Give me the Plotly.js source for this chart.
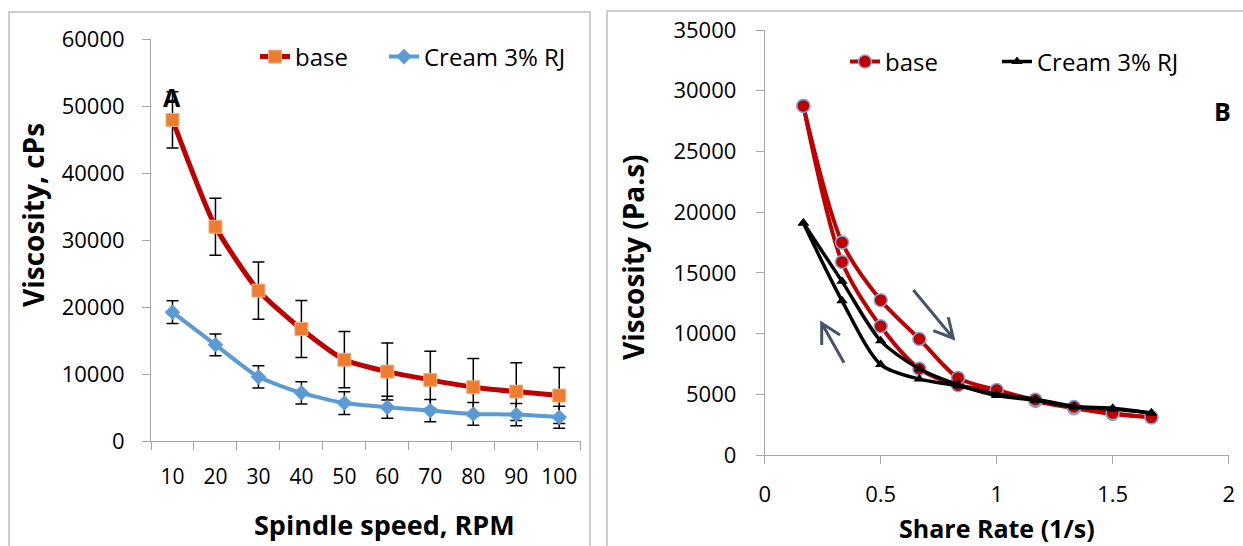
<!DOCTYPE html>
<html>
<head>
<meta charset="utf-8">
<script src="https://cdn.plot.ly/plotly-3.0.1.min.js"></script>
<style>html,body{margin:0;padding:0;background:#fff;}#chart{width:1243px;height:546px;}</style>
</head>
<body>
<div id="chart"></div>
<script>
// ---- Panel A data ----
const rpm = ['10','20','30','40','50','60','70','80','90','100'];
const baseVisc = [47960, 32000, 22470, 16720, 12140, 10370, 9130, 8040, 7380, 6790];
const baseErr = [4200, 4250, 4270, 4250, 4200, 4250, 4290, 4280, 4300, 4180];
const creamVisc = [19240, 14370, 9580, 7190, 5670, 5040, 4540, 4040, 3940, 3550];
const creamErr = [1700, 1620, 1650, 1650, 1700, 1650, 1650, 1700, 1650, 1650];

// ---- Panel B data ----
const shear = [0.1667, 0.3333, 0.5, 0.6667, 0.8333, 1.0, 1.1667, 1.3333, 1.5, 1.6667];
const baseUp = [28750, 17500, 12750, 9550, 6350, 5350, 4550, 3950, 3450, 3100];
const baseDown = [28750, 15900, 10600, 7100, 5750, 5270, 4450, 3850, 3380, 3100];
const creamUp = [19100, 14300, 9400, 7100, 5800, 5000, 4600, 4000, 3850, 3450];
const creamDown = [19100, 12700, 7450, 6250, 5700, 4900, 4500, 3950, 3780, 3450];

const seriesNames = ['base', 'Cream 3% RJ'];
const yTicksA = [0, 10000, 20000, 30000, 40000, 50000, 60000];
const yTicksB = [0, 5000, 10000, 15000, 20000, 25000, 30000, 35000];
const xTicksB = [0, 0.5, 1, 1.5, 2];

const W = 1243, H = 546;
const px = v => v / W;
const py = v => 1 - v / H;
const FONT = 'Open Sans, Liberation Sans, sans-serif';
const AXC = '#A6A6A6';

const traces = [
  {x: rpm, y: baseVisc, name: seriesNames[0], type: 'scatter', mode: 'lines+markers',
   xaxis: 'x', yaxis: 'y', legend: 'legend',
   line: {color: '#C00000', width: 5, shape: 'spline', smoothing: 0.6},
   marker: {symbol: 'square', size: 13, color: '#ED7D31', line: {color: '#F4B183', width: 1}},
   error_y: {type: 'data', array: baseErr, visible: true, color: '#000', thickness: 1.5, width: 6}},
  {x: rpm, y: creamVisc, name: seriesNames[1], type: 'scatter', mode: 'lines+markers',
   xaxis: 'x', yaxis: 'y', legend: 'legend2',
   line: {color: '#5B9BD5', width: 4, shape: 'spline', smoothing: 0.6},
   marker: {symbol: 'diamond', size: 12, color: '#5B9BD5'},
   error_y: {type: 'data', array: creamErr, visible: true, color: '#000', thickness: 1.5, width: 6}},
  {x: shear, y: baseDown, name: seriesNames[0], type: 'scatter', mode: 'lines+markers',
   xaxis: 'x2', yaxis: 'y2', showlegend: false,
   line: {color: '#C00000', width: 4, shape: 'spline', smoothing: 0.8},
   marker: {symbol: 'circle', size: 13, color: '#C00000', line: {color: '#7FA8D8', width: 1.5}}},
  {x: shear, y: baseUp, name: seriesNames[0], type: 'scatter', mode: 'lines+markers',
   xaxis: 'x2', yaxis: 'y2', legend: 'legend3',
   line: {color: '#C00000', width: 4, shape: 'spline', smoothing: 0.8},
   marker: {symbol: 'circle', size: 13, color: '#C00000', line: {color: '#7FA8D8', width: 1.5}}},
  {x: shear, y: creamDown, name: seriesNames[1], type: 'scatter', mode: 'lines+markers',
   xaxis: 'x2', yaxis: 'y2', showlegend: false,
   line: {color: '#000', width: 3.5, shape: 'spline', smoothing: 0.8},
   marker: {symbol: 'triangle-up', size: 10, color: '#000'}},
  {x: shear, y: creamUp, name: seriesNames[1], type: 'scatter', mode: 'lines+markers',
   xaxis: 'x2', yaxis: 'y2', legend: 'legend4',
   line: {color: '#000', width: 3.5, shape: 'spline', smoothing: 0.8},
   marker: {symbol: 'triangle-up', size: 10, color: '#000'}}
];

const axisBase = {
  showgrid: false, zeroline: false, showline: true, linecolor: AXC, linewidth: 1,
  ticks: 'outside', ticklen: 8, tickcolor: AXC, tickwidth: 1,
  tickfont: {family: FONT, size: 22, color: '#000'}, fixedrange: true
};

const legendBase = {
  orientation: 'h', xanchor: 'left', yanchor: 'middle', bgcolor: 'rgba(0,0,0,0)',
  borderwidth: 0, font: {family: FONT, size: 24, color: '#000'}
};

const layout = {
  width: W, height: H, autosize: false,
  margin: {l: 0, r: 0, t: 0, b: 0},
  paper_bgcolor: '#fff', plot_bgcolor: 'rgba(0,0,0,0)',
  font: {family: FONT},
  xaxis: Object.assign({}, axisBase, {
    domain: [px(151), px(580.7)], anchor: 'y', type: 'category',
    range: [-0.5, 9.5], tickson: 'boundaries', ticklabelstandoff: 17, tickangle: 0,
    tickfont: {family: FONT, size: 21, color: '#000'}
  }),
  yaxis: Object.assign({}, axisBase, {
    domain: [py(441), py(39.3)], anchor: 'x', range: [0, 60000],
    tickvals: yTicksA, ticktext: yTicksA.map(String), ticklabelstandoff: 13
  }),
  xaxis2: Object.assign({}, axisBase, {
    domain: [px(764.7), px(1228.7)], anchor: 'y2', range: [0, 2],
    tickvals: xTicksB, ticktext: xTicksB.map(String), ticklabelstandoff: 12, tickangle: 0
  }),
  yaxis2: Object.assign({}, axisBase, {
    domain: [py(455), py(30)], anchor: 'x2', range: [0, 35000],
    tickvals: yTicksB, ticktext: yTicksB.map(String), ticklabelstandoff: 15
  }),
  legend: Object.assign({}, legendBase, {x: px(255), y: py(57)}),
  legend2: Object.assign({}, legendBase, {x: px(384), y: py(57)}),
  legend3: Object.assign({}, legendBase, {x: px(845), y: py(62)}),
  legend4: Object.assign({}, legendBase, {x: px(997), y: py(62)}),
  shapes: [
    {type: 'rect', xref: 'paper', yref: 'paper', x0: px(9), x1: px(590), y0: -0.1, y1: py(12),
     line: {color: '#BFBFBF', width: 1.5}, fillcolor: 'rgba(0,0,0,0)', layer: 'below'},
    {type: 'rect', xref: 'paper', yref: 'paper', x0: px(607), x1: 1.1, y0: -0.1, y1: py(11),
     line: {color: '#BFBFBF', width: 1.5}, fillcolor: 'rgba(0,0,0,0)', layer: 'below'},
    {type: 'path', xref: 'x2', yref: 'y2', line: {color: '#44546A', width: 3},
     path: 'M0.6405,13590 L0.813,9613 M0.7914,11343 L0.813,9613 L0.7267,10239'},
    {type: 'path', xref: 'x2', yref: 'y2', line: {color: '#44546A', width: 3},
     path: 'M0.3418,7603 L0.2457,10848 M0.2457,9061 L0.2457,10848 L0.3246,9885'}
  ],
  annotations: [
    {text: '<b>Spindle speed, RPM</b>', xref: 'paper', yref: 'paper', x: px(384), y: py(524),
     xanchor: 'center', yanchor: 'middle', showarrow: false, font: {family: FONT, size: 27, color: '#000'}},
    {text: '<b>Viscosity, cPs</b>', xref: 'paper', yref: 'paper', x: px(33), y: py(215),
     xanchor: 'center', yanchor: 'middle', textangle: -90, showarrow: false, font: {family: FONT, size: 28, color: '#000'}},
    {text: '<b>Share Rate (1/s)</b>', xref: 'paper', yref: 'paper', x: px(996.5), y: py(528),
     xanchor: 'center', yanchor: 'middle', showarrow: false, font: {family: FONT, size: 25, color: '#000'}},
    {text: '<b>Viscosity (Pa.s)</b>', xref: 'paper', yref: 'paper', x: px(633), y: py(257),
     xanchor: 'center', yanchor: 'middle', textangle: -90, showarrow: false, font: {family: FONT, size: 28, color: '#000'}},
    {text: '<b>A</b>', xref: 'paper', yref: 'paper', x: px(172), y: py(97),
     xanchor: 'center', yanchor: 'middle', showarrow: false, font: {family: FONT, size: 25, color: '#000'}},
    {text: '<b>B</b>', xref: 'paper', yref: 'paper', x: px(1222.5), y: py(111),
     xanchor: 'center', yanchor: 'middle', showarrow: false, font: {family: FONT, size: 25, color: '#000'}}
  ]
};

Plotly.newPlot('chart', traces, layout, {staticPlot: true, displayModeBar: false});
</script>
</body>
</html>
